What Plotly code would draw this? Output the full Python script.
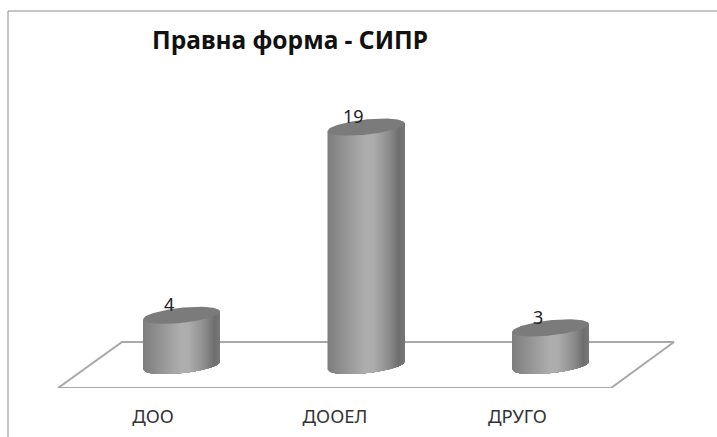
import numpy as np
import plotly.graph_objects as go

CATEGORIES = ["ДОО", "ДООЕЛ", "ДРУГО"]
VALUES = [4, 19, 3]
TITLE = "Правна форма - СИПР"

W, H = 717, 437
L, T, R, B = 8, 11, 717, 388          # plot area in page pixels
X0_PX, DX_PX = 181.5, 184.5           # category centre and spacing
Y0_PX, DY_PX = 365.5, 12.55           # value zero and pixels per unit

XR = [(L - X0_PX) / DX_PX, (R - X0_PX) / DX_PX]
YR = [(Y0_PX - B) / DY_PX, (Y0_PX - T) / DY_PX]

ux = 1 / DX_PX   # data units per pixel
uy = 1 / DY_PX

RADIUS = 38.5 * ux
SEMI_H = 7.6 * uy
TILT = 4.0 * uy   # rise across the radius, left end low, right end high

# the floor is drawn in perspective, so the labels sit left of the cylinders
TICK_POS = [(p - X0_PX) / DX_PX for p in (153, 335, 517.5)]

STOPS_T = [0.0, 0.25, 0.5, 0.6, 0.8, 0.93, 1.0]
STOPS_G = [125, 150, 174, 172, 140, 110, 120]
TOP_COLOR = "#7b7b7b"
FLOOR_COLOR = "#a8a8a8"
FRAME_COLOR = "#8c8c8c"
FONT = "Noto Sans"
N_STRIPS = 77


def edge(cx, level, s, side):
    u = (s - cx) / RADIUS
    return level + TILT * u + side * SEMI_H * np.sqrt(np.clip(1 - u * u, 0, 1))


fig = go.Figure()

# floor
fx = [(p - X0_PX) / DX_PX for p in (58, 122, 674, 611, 58)]
fy = [(Y0_PX - p) / DY_PX for p in (388, 342, 342, 388, 388)]
fig.add_trace(go.Scatter(x=fx, y=fy, mode="lines", fill="toself", fillcolor="white",
                         line=dict(color=FLOOR_COLOR, width=2), hoverinfo="skip",
                         cliponaxis=False))

# cylinders: each strip runs to the right edge and is overpainted by the next one
for i, v in enumerate(VALUES):
    edges = np.linspace(i - RADIUS, i + RADIUS, N_STRIPS + 1)
    for k in range(N_STRIPS):
        t = (k + 0.5) / N_STRIPS
        g = int(round(np.interp(t, STOPS_T, STOPS_G)))
        xs = np.linspace(edges[k], i + RADIUS, 24)
        top = edge(i, v, xs, -1)
        bot = edge(i, 0, xs, -1)
        fig.add_trace(go.Scatter(
            x=np.concatenate([xs, xs[::-1]]),
            y=np.concatenate([top, bot[::-1]]),
            mode="lines", fill="toself", fillcolor=f"rgb({g},{g},{g})",
            line=dict(width=0), hoverinfo="skip"))
    s = np.linspace(i - RADIUS, i + RADIUS, 80)
    fig.add_trace(go.Scatter(
        x=np.concatenate([s, s[::-1]]),
        y=np.concatenate([edge(i, v, s, 1), edge(i, v, s[::-1], -1)]),
        mode="lines", fill="toself", fillcolor=TOP_COLOR,
        line=dict(width=0), hoverinfo="skip"))

# value labels
annotations = [
    dict(x=i, y=v, xref="x", yref="y", text=str(v), showarrow=False,
         xshift=-13, yshift=11, font=dict(family=FONT, size=18, color="#222222"))
    for i, v in enumerate(VALUES)
]

frame = [
    dict(type="line", xref="paper", yref="paper", x0=0, x1=1, y0=1, y1=1,
         line=dict(color=FRAME_COLOR, width=1)),
    dict(type="line", xref="paper", yref="paper", x0=0, x1=0, y0=1,
         y1=(B - H) / (B - T), line=dict(color=FRAME_COLOR, width=1)),
]

fig.update_layout(
    width=W, height=H, autosize=False, showlegend=False,
    margin=dict(l=L, r=W - R, t=T, b=H - B, pad=0),
    paper_bgcolor="white", plot_bgcolor="white",
    title=dict(text=f"<b>{TITLE}</b>", x=290 / W, xanchor="center",
               y=1 - 40 / H, yanchor="middle",
               font=dict(family=FONT, size=24.5, color="#111111")),
    xaxis=dict(range=XR, tickmode="array", tickvals=TICK_POS, ticktext=CATEGORIES,
               showgrid=False, zeroline=False, showline=False,
               ticks="outside", ticklen=12, tickcolor="rgba(0,0,0,0)",
               tickfont=dict(family=FONT, size=18.5, color="#333333")),
    yaxis=dict(range=YR, visible=False, showgrid=False, zeroline=False),
    annotations=annotations, shapes=frame,
)

fig.write_html("out.html", config=dict(displayModeBar=False),
               post_script="document.body.style.margin='0';document.body.style.overflow='hidden';")
